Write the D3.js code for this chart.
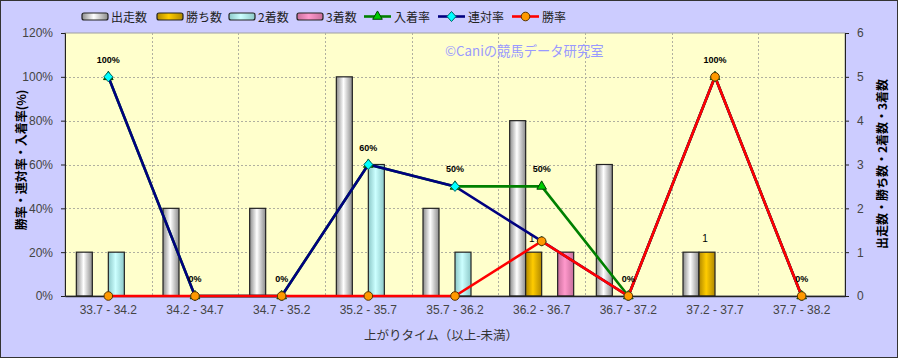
<!DOCTYPE html>
<html><head><meta charset="utf-8">
<script src="https://cdn.jsdelivr.net/npm/d3@7"></script>
<style>
html,body{margin:0;padding:0;background:#fff;}
svg{display:block;}
text{font-family:"Liberation Sans",Arial,"Noto Sans CJK JP",sans-serif;}
.jp{font-family:"Noto Sans CJK JP","Liberation Sans",sans-serif;}
</style></head>
<body>
<script>
const categories = ["33.7 - 34.2","34.2 - 34.7","34.7 - 35.2","35.2 - 35.7","35.7 - 36.2","36.2 - 36.7","36.7 - 37.2","37.2 - 37.7","37.7 - 38.2"];
const runs   = [1,2,2,5,2,4,3,1,0];   // 出走数
const wins   = [0,0,0,0,0,1,0,1,0];   // 勝ち数
const second = [1,0,0,3,1,0,0,0,0];   // 2着数
const third  = [0,0,0,0,0,1,0,0,0];   // 3着数
const placeRate = [100,0,0,60,50,50,0,100,0]; // 入着率
const quinRate  = [100,0,0,60,50,25,0,100,0]; // 連対率
const winRate   = [0,0,0,0,0,25,0,100,0];     // 勝率
const leftTicks = [0,20,40,60,80,100,120];
const rightTicks = [0,1,2,3,4,5,6];

const W=898,H=358;
const M={l:65,r:845,t:33,b:296};
const svg=d3.select("body").append("svg").attr("width",W).attr("height",H);
const defs=svg.append("defs");
function grad(id,dark,light){
  const g=defs.append("linearGradient").attr("id",id).attr("x1","0").attr("x2","1").attr("y1","0").attr("y2","0");
  g.append("stop").attr("offset","0%").attr("stop-color",dark);
  g.append("stop").attr("offset","45%").attr("stop-color",light);
  g.append("stop").attr("offset","100%").attr("stop-color",dark);
}
grad("gRun","#8c8c8c","#ffffff");
grad("gWin","#b08800","#ffcc00");
grad("gSec","#8cc8c8","#ccffff");
grad("gThi","#c86f9c","#ff99cc");

svg.append("rect").attr("x",0.5).attr("y",0.5).attr("width",W-1).attr("height",H-1).attr("fill","#ccccff").attr("stroke","#333");
svg.append("rect").attr("x",M.l).attr("y",M.t).attr("width",M.r-M.l).attr("height",M.b-M.t).attr("fill","#ffffcc").attr("stroke","#a0a0a0");

const x=d3.scaleBand().domain(categories).range([M.l,M.r]);
const bw=x.bandwidth();
const yL=d3.scaleLinear().domain([0,120]).range([M.b,M.t]);
const yR=d3.scaleLinear().domain([0,6]).range([M.b,M.t]);

// gridlines
const grid=svg.append("g").attr("stroke","#b0b0a0").attr("stroke-dasharray","2,2").attr("stroke-width",1);
leftTicks.filter(t=>t>0&&t<120).forEach(t=>grid.append("line").attr("x1",M.l).attr("x2",M.r).attr("y1",Math.round(yL(t))+0.5).attr("y2",Math.round(yL(t))+0.5));
categories.slice(1).forEach(c=>grid.append("line").attr("x1",Math.round(x(c))+0.5).attr("x2",Math.round(x(c))+0.5).attr("y1",M.t).attr("y2",M.b));

// watermark
svg.append("text").attr("class","jp").attr("x",445).attr("y",56).attr("font-size",13.3).attr("fill","#9999ff").text("©Caniの競馬データ研究室");

// bars
const barSeries=[{v:runs,f:"url(#gRun)"},{v:wins,f:"url(#gWin)"},{v:second,f:"url(#gSec)"},{v:third,f:"url(#gThi)"}];
const xs=d3.scaleBand().domain([0,1,2,3]).range([bw/2-32,bw/2+32]);
barSeries.forEach((s,si)=>{
  svg.append("g").selectAll("rect").data(s.v.map((v,i)=>({v,c:categories[i]})).filter(d=>d.v>0)).join("rect")
    .attr("x",d=>x(d.c)+xs(si)).attr("width",xs.bandwidth())
    .attr("y",d=>yR(d.v)).attr("height",d=>yR(0)-yR(d.v))
    .attr("fill",s.f).attr("stroke","#222").attr("stroke-width",1.2);
});
// labels on win bars
svg.append("g").selectAll("text").data(wins.map((v,i)=>({v,c:categories[i]})).filter(d=>d.v>0)).join("text")
  .attr("x",d=>x(d.c)+xs(1)+xs.bandwidth()/2-2).attr("y",d=>yR(d.v)-10)
  .attr("text-anchor","middle").attr("font-size",10).attr("fill","#000").text(d=>d.v);

// axes
const axL=svg.append("g").attr("transform",`translate(${M.l},0)`)
  .call(d3.axisLeft(yL).tickValues(leftTicks).tickFormat(d=>d+"%").tickSize(4).tickPadding(8));
const axR=svg.append("g").attr("transform",`translate(${M.r},0)`)
  .call(d3.axisRight(yR).tickValues(rightTicks).tickFormat(d3.format("d")).tickSize(4).tickPadding(8));
const axB=svg.append("g").attr("transform",`translate(0,${M.b})`)
  .call(d3.axisBottom(x).tickSize(0).tickPadding(9));
[axL,axR,axB].forEach(a=>{a.selectAll("path").attr("stroke","#222");a.selectAll("line").attr("stroke","#222");
  a.selectAll("text").attr("font-size",12).attr("fill","#444").attr("font-family","\"Liberation Sans\",Arial,sans-serif");});
axB.select(".domain").attr("stroke-width",1.3);

// lines
const lineSeries=[
 {v:placeRate,c:"#008000",m:"tri"},
 {v:quinRate,c:"#000080",m:"dia"},
 {v:winRate,c:"#ff0000",m:"cir"}];
const ln=d3.line().x((d,i)=>x(categories[i])+bw/2).y(d=>yL(d));
lineSeries.forEach(s=>{
  svg.append("path").datum(s.v).attr("d",ln).attr("fill","none").attr("stroke",s.c).attr("stroke-width",2.6);
});
function marker(g,type,cx,cy){
  if(type==="tri") g.append("path").attr("d",d3.symbol(d3.symbolTriangle,40)()).attr("transform",`translate(${cx},${cy})`).attr("fill","#00cc00").attr("stroke","#004400").attr("stroke-width",1);
  if(type==="dia") g.append("path").attr("d",`M0,-5L4.5,0L0,5L-4.5,0Z`).attr("transform",`translate(${cx},${cy})`).attr("fill","#00ffff").attr("stroke","#006666").attr("stroke-width",1);
  if(type==="cir") g.append("circle").attr("cx",cx).attr("cy",cy).attr("r",4.3).attr("fill","#ff9900").attr("stroke","#553300").attr("stroke-width",1);
}
lineSeries.forEach(s=>{
  const g=svg.append("g");
  s.v.forEach((v,i)=>marker(g,s.m,x(categories[i])+bw/2,yL(v)));
});
// percentage labels (入着率)
svg.append("g").selectAll("text").data(placeRate).join("text")
  .attr("x",(d,i)=>x(categories[i])+bw/2).attr("y",d=>yL(d)-14)
  .attr("text-anchor","middle").attr("font-size",9).attr("font-weight","bold").attr("fill","#000").text(d=>d+"%");

// axis titles
svg.append("text").attr("class","jp").attr("transform","translate(26,160) rotate(-90)").attr("text-anchor","middle")
  .attr("font-size",12).attr("font-weight","bold").attr("fill","#000").text("勝率・連対率・入着率(%)");
svg.append("text").attr("class","jp").attr("transform","translate(887,164) rotate(-90)").attr("text-anchor","middle")
  .attr("font-size",12).attr("font-weight","bold").attr("fill","#000").text("出走数・勝ち数・2着数・3着数");
svg.append("text").attr("class","jp").attr("x",441).attr("y",340).attr("text-anchor","middle")
  .attr("font-size",12.5).attr("fill","#333").text("上がりタイム（以上-未満）");

// legend
const legendBars=[{n:"出走数",f:"url(#gRun)",x:82},{n:"勝ち数",f:"url(#gWin)",x:157},{n:"2着数",f:"url(#gSec)",x:229},{n:"3着数",f:"url(#gThi)",x:297}];
const lg=svg.append("g");
legendBars.forEach(b=>{
  lg.append("rect").attr("x",b.x).attr("y",13).attr("width",26).attr("height",7).attr("rx",2).attr("fill",b.f).attr("stroke","#222").attr("stroke-width",1.2);
  lg.append("text").attr("class","jp").attr("x",b.x+29).attr("y",21.5).attr("font-size",12).attr("fill","#222").text(b.n);
});
const legendLines=[{n:"入着率",s:lineSeries[0],x:364},{n:"連対率",s:lineSeries[1],x:438},{n:"勝率",s:lineSeries[2],x:512}];
legendLines.forEach(l=>{
  lg.append("line").attr("x1",l.x).attr("x2",l.x+27).attr("y1",16.5).attr("y2",16.5).attr("stroke",l.s.c).attr("stroke-width",2.6);
  marker(lg,l.s.m,l.x+13.5,16.5);
  lg.append("text").attr("class","jp").attr("x",l.x+30).attr("y",21.5).attr("font-size",12).attr("fill","#222").text(l.n);
});
</script>
</body></html>
